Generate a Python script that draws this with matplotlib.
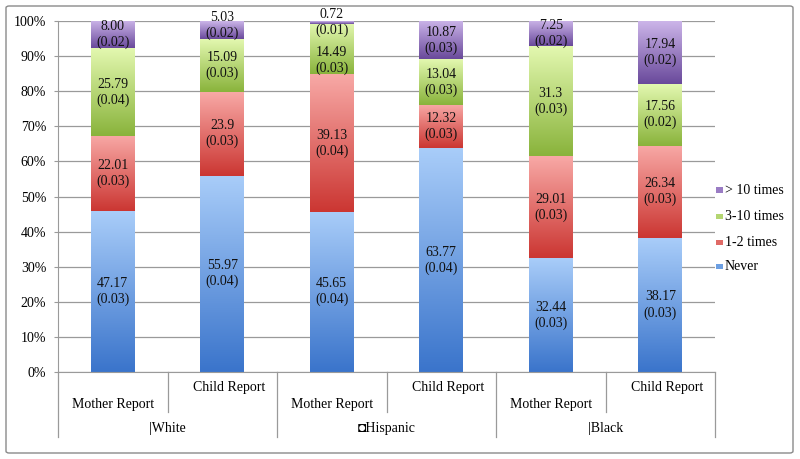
import numpy as np
import matplotlib.pyplot as plt
from matplotlib.colors import LinearSegmentedColormap
from matplotlib.patches import Rectangle, FancyBboxPatch

# data (values as printed in the chart, standard errors in brackets)
groups = ['|White', '\u25d8Hispanic', '|Black']
reports = ['Mother Report', 'Child Report', 'Mother Report', 'Child Report', 'Mother Report', 'Child Report']
series = ['Never', '1-2 times', '3-10 times', '> 10 times']

never = ['47.17', '55.97', '45.65', '63.77', '32.44', '38.17']
never_se = ['0.03', '0.04', '0.04', '0.04', '0.03', '0.03']
once_twice = ['22.01', '23.9', '39.13', '12.32', '29.01', '26.34']
once_twice_se = ['0.03', '0.03', '0.04', '0.03', '0.03', '0.03']
three_ten = ['25.79', '15.09', '14.49', '13.04', '31.3', '17.56']
three_ten_se = ['0.04', '0.03', '0.03', '0.03', '0.03', '0.02']
over_ten = ['8.00', '5.03', '0.72', '10.87', '7.25', '17.94']
over_ten_se = ['0.02', '0.02', '0.01', '0.03', '0.02', '0.02']

values = [never, once_twice, three_ten, over_ten]
errors = [never_se, once_twice_se, three_ten_se, over_ten_se]

# gradient (top, bottom) per series
grads = [('#a9cdf9', '#3a74cb'), ('#f8a9a6', '#cb3632'),
         ('#e3f8b0', '#89b33b'), ('#ccb5e9', '#69499b')]
mids = ['#6c9fe2', '#e06a66', '#b4d672', '#9a7cc4']

# label nudges in points (bar index, series index)
nudge = {(1, 3): 3, (2, 2): -8}

serif = ['Liberation Serif', 'DejaVu Sans']
plt.rcParams['font.family'] = serif
plt.rcParams['font.size'] = 10

fig = plt.figure(figsize=(8, 4.59), dpi=100)
ax = fig.add_axes([58 / 800, 1 - 372 / 459, 657 / 800, 351 / 459])

x = np.arange(len(reports))
vals = np.array([[float(v) for v in s] for s in values])
pct = vals / vals.sum(axis=0) * 100
bottom = np.zeros(len(x))
grad = np.linspace(0, 1, 256).reshape(-1, 1)

for i, name in enumerate(series):
    cmap = LinearSegmentedColormap.from_list(name, [grads[i][1], grads[i][0]])
    bars = ax.bar(x, pct[i], 0.4, bottom=bottom, facecolor='none', edgecolor='none', zorder=2)
    for j, b in enumerate(bars):
        x0, y0 = b.get_x(), b.get_y()
        ax.imshow(grad, cmap=cmap, origin='lower', aspect='auto', zorder=2,
                  extent=[x0, x0 + b.get_width(), y0, y0 + b.get_height()])
        yc = y0 + b.get_height() / 2
        ax.annotate('%s\n(%s)' % (values[i][j], errors[i][j]), (x[j], yc),
                    xytext=(0, nudge.get((j, i), 0)), textcoords='offset points',
                    ha='center', va='center', fontsize=10, linespacing=1.25,
                    color='#111111', zorder=4)
    bottom += pct[i]

ax.set_xlim(-0.5, len(x) - 0.5)
ax.set_ylim(0, 100)
ax.set_yticks(np.arange(0, 101, 10))
ax.set_yticklabels(['%d%%' % v for v in range(0, 101, 10)])
ax.yaxis.grid(True, color='#9a9a9a', lw=0.9, zorder=0)
ax.set_axisbelow(True)
ax.tick_params(axis='y', length=3, color='#9a9a9a', pad=5.5, labelsize=10)
ax.set_xticks([])
for s in ['top', 'right']:
    ax.spines[s].set_visible(False)
for s in ['left', 'bottom']:
    ax.spines[s].set_color('#9a9a9a')

# two-level category axis
tr = ax.get_xaxis_transform()
for j, r in enumerate(reports):
    if j % 2 == 0:
        ax.text(x[j], -0.094, r, transform=tr, ha='center', va='center', fontsize=10)
    else:
        ax.text(x[j] + 0.06, -0.043, r, transform=tr, ha='center', va='center', fontsize=10)
for k in range(len(x) + 1):
    y_end = -0.185 if k % 2 == 0 else -0.114
    ax.plot([k - 0.5, k - 0.5], [0, y_end], transform=tr, color='#9a9a9a', lw=0.9, clip_on=False)
for g, name in enumerate(groups):
    ax.text(2 * g + 0.5, -0.162, name, transform=tr, ha='center', va='center', fontsize=10)

# legend
leg_y = [266, 242, 217, 190]
for i, name in enumerate(series):
    fig.add_artist(Rectangle((716 / 800, 1 - (leg_y[i] + 2.5) / 459), 7 / 800, 5 / 459,
                             transform=fig.transFigure, facecolor=mids[i], edgecolor='none'))
    fig.text(725 / 800, 1 - leg_y[i] / 459, name, ha='left', va='center', fontsize=10)

# chart border
fig.add_artist(FancyBboxPatch((6 / 800, 6 / 459), 787 / 800, 447 / 459,
                              boxstyle='round,pad=0,rounding_size=0.004',
                              transform=fig.transFigure, fill=False,
                              edgecolor='#8a8a8a', lw=1))

fig.savefig('out.png', dpi=100)
